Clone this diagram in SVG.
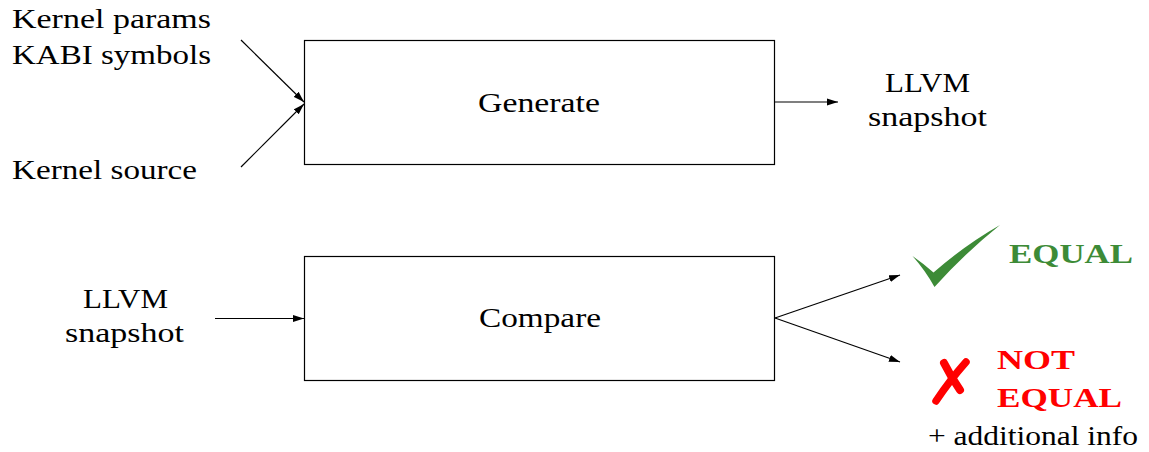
<svg xmlns="http://www.w3.org/2000/svg" width="1149" height="452" viewBox="0 0 1149 452">
<style>
text{font-family:'Liberation Serif','Times New Roman',serif;font-size:28px;fill:#000}
.b{font-weight:bold}
.g{fill:#3d8b37}
.r{fill:#ff0000}
.box{fill:#fff;stroke:#000;stroke-width:1.2}
.c{fill:none;stroke:#000;stroke-width:1.2}
</style>
<defs>
<marker id="ah" markerUnits="userSpaceOnUse" markerWidth="12" markerHeight="8" refX="11" refY="4" orient="auto">
<path d="M0,0.5 L11,4 L0,7.5 Z" fill="#000"/>
</marker>
</defs>
<rect width="1149" height="452" fill="#fff"/>
<g id="inputs">
<text x="12" y="28" textLength="199" lengthAdjust="spacingAndGlyphs">Kernel params</text>
<text x="12" y="64" textLength="199" lengthAdjust="spacingAndGlyphs">KABI symbols</text>
<text x="12" y="179" textLength="185" lengthAdjust="spacingAndGlyphs">Kernel source</text>
</g>
<g id="generate">
<rect class="box" x="304.5" y="40.5" width="470" height="124"/>
<text x="478" y="112" textLength="122" lengthAdjust="spacingAndGlyphs">Generate</text>
</g>
<g id="snapshot-out">
<text x="885" y="92" textLength="85" lengthAdjust="spacingAndGlyphs">LLVM</text>
<text x="868" y="126" textLength="119" lengthAdjust="spacingAndGlyphs">snapshot</text>
</g>
<g id="snapshot-in">
<text x="83" y="308" textLength="85" lengthAdjust="spacingAndGlyphs">LLVM</text>
<text x="65" y="342" textLength="119" lengthAdjust="spacingAndGlyphs">snapshot</text>
</g>
<g id="compare">
<rect class="box" x="304.5" y="256.5" width="470" height="124"/>
<text x="479" y="327" textLength="122" lengthAdjust="spacingAndGlyphs">Compare</text>
</g>
<g id="equal">
<path d="M912.5,256 Q924,264 933.5,272.5 Q965,245 1000,225 Q964,254 934.5,287 Q925,270 912.5,256 Z" fill="#3d8b37"/>
<text class="b g" x="1009" y="263" textLength="124" lengthAdjust="spacingAndGlyphs">EQUAL</text>
</g>
<g id="not-equal">
<path d="M944,363 Q951,377 960,390" fill="none" stroke="#ff0000" stroke-width="8" stroke-linecap="round"/>
<path d="M966,362 Q950,380 936,401" fill="none" stroke="#ff0000" stroke-width="7.5" stroke-linecap="round"/>
<text class="b r" x="997" y="369" textLength="78" lengthAdjust="spacingAndGlyphs">NOT</text>
<text class="b r" x="997" y="407" textLength="125" lengthAdjust="spacingAndGlyphs">EQUAL</text>
<text x="928" y="445" textLength="210" lengthAdjust="spacingAndGlyphs">+ additional info</text>
</g>
<g id="connectors">
<line class="c" x1="241" y1="40" x2="304" y2="102" marker-end="url(#ah)"/>
<line class="c" x1="241" y1="167" x2="304" y2="104" marker-end="url(#ah)"/>
<line class="c" x1="775" y1="102" x2="838" y2="102" marker-end="url(#ah)"/>
<line class="c" x1="215" y1="318.5" x2="304" y2="318.5" marker-end="url(#ah)"/>
<line class="c" x1="775" y1="318" x2="900" y2="275" marker-end="url(#ah)"/>
<line class="c" x1="775" y1="318" x2="900" y2="362" marker-end="url(#ah)"/>
</g>
</svg>
